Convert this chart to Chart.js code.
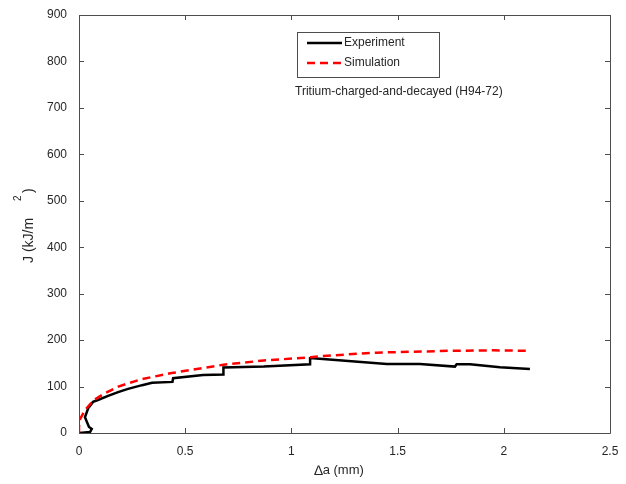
<!DOCTYPE html>
<html>
<head>
<meta charset="utf-8">
<script src="https://cdn.jsdelivr.net/npm/chart.js@4.4.1/dist/chart.umd.min.js"></script>
<style>
  html, body { margin: 0; padding: 0; background: #fff; }
  #wrap { width: 626px; height: 484px; }
</style>
</head>
<body>
<div id="wrap"><canvas id="chart" width="626" height="484"></canvas></div>
<script>
const FONT = '"Liberation Sans", Arial, sans-serif';
const TEXT_COLOR = '#262626';
const FRAME_COLOR = '#4d4d4d';

// Δa (mm) vs J (kJ/m^2)
const expX = [0, 0.052, 0.06, 0.047, 0.028, 0.044, 0.066, 0.089, 0.137, 0.184, 0.231, 0.297, 0.344, 0.44, 0.443, 0.584, 0.68, 0.68, 0.87, 1.088, 1.088, 1.103, 1.449, 1.605, 1.77, 1.778, 1.841, 1.982, 2.123];
const expJ = [0, 2, 9, 13, 34, 54, 67, 71, 80, 88, 95, 103, 108, 110, 118, 125, 126, 141, 143, 148, 161, 161, 148.6, 148.6, 143, 148, 148, 141.5, 137.8];

const simX = [0, 0, 0.005, 0.028, 0.067, 0.12, 0.185, 0.295, 0.436, 0.585, 0.68, 0.868, 1.09, 1.15, 1.4, 1.75, 1.95, 2.108];
const simJ = [0, 13, 30, 49, 70, 85, 100, 116, 129, 140, 147, 156, 163, 166, 173, 177, 178, 177];

const X_TICKS = [0, 0.5, 1, 1.5, 2, 2.5];
const Y_TICKS = [0, 100, 200, 300, 400, 500, 600, 700, 800, 900];

const SERIES_LABELS = ['Experiment', 'Simulation'];
const NOTE = 'Tritium-charged-and-decayed (H94-72)';

function toPoints(xs, ys) {
  return xs.map((x, i) => ({ x, y: ys[i] }));
}

// box + inward tick marks on all four sides
const framePlugin = {
  id: 'frame',
  afterDraw(chart) {
    const { ctx, chartArea: a, scales } = chart;
    const tick = 5;
    ctx.save();
    ctx.strokeStyle = FRAME_COLOR;
    ctx.lineWidth = 1;
    ctx.beginPath();
    ctx.rect(a.left + 0.5, a.top + 0.5, a.right - a.left, a.bottom - a.top);
    for (const v of X_TICKS) {
      const px = Math.round(scales.x.getPixelForValue(v)) + 0.5;
      ctx.moveTo(px, a.bottom); ctx.lineTo(px, a.bottom - tick);
      ctx.moveTo(px, a.top); ctx.lineTo(px, a.top + tick);
    }
    for (const v of Y_TICKS) {
      const py = Math.round(scales.y.getPixelForValue(v)) + 0.5;
      ctx.moveTo(a.left, py); ctx.lineTo(a.left + tick, py);
      ctx.moveTo(a.right, py); ctx.lineTo(a.right - tick, py);
    }
    ctx.stroke();
    ctx.restore();
  },
};

const labelsPlugin = {
  id: 'labels',
  afterDraw(chart) {
    const { ctx } = chart;
    ctx.save();
    ctx.fillStyle = TEXT_COLOR;

    // x title: Δa (mm)
    ctx.textBaseline = 'middle';
    ctx.textAlign = 'left';
    ctx.font = `14px ${FONT}`;
    const dW = ctx.measureText('\u2206').width;
    ctx.font = `13px ${FONT}`;
    const restW = ctx.measureText('a (mm)').width;
    const x0 = 339 - (dW + restW) / 2;
    ctx.font = `14px ${FONT}`;
    ctx.fillText('\u2206', x0, 471);
    ctx.font = `13px ${FONT}`;
    ctx.fillText('a (mm)', x0 + dW, 470);

    // y title: J (kJ/m^2)
    ctx.save();
    ctx.translate(29, 263);
    ctx.rotate(-Math.PI / 2);
    ctx.font = `14px ${FONT}`;
    ctx.fillText('J (kJ/m', 0, 0);
    ctx.fillText(')', 70, 0);
    ctx.font = `10px ${FONT}`;
    ctx.fillText('2', 62, -11);
    ctx.restore();

    // legend box
    ctx.fillStyle = '#fff';
    ctx.fillRect(297, 32, 142, 45);
    ctx.strokeStyle = FRAME_COLOR;
    ctx.lineWidth = 1;
    ctx.strokeRect(297.5, 32.5, 142, 45);

    const sets = chart.data.datasets;
    const rows = [43, 63];
    rows.forEach((y, i) => {
      const ds = sets[i];
      ctx.strokeStyle = ds.borderColor;
      ctx.lineWidth = ds.borderWidth;
      ctx.setLineDash(ds.borderDash || []);
      ctx.beginPath();
      ctx.moveTo(307, y);
      ctx.lineTo(342, y);
      ctx.stroke();
      ctx.setLineDash([]);
      ctx.fillStyle = TEXT_COLOR;
      ctx.font = `12px ${FONT}`;
      ctx.fillText(ds.label, 344, y);
    });

    ctx.fillText(NOTE, 295, 92);
    ctx.restore();
  },
};

new Chart(document.getElementById('chart').getContext('2d'), {
  type: 'scatter',
  data: {
    datasets: [
      {
        label: SERIES_LABELS[0],
        data: toPoints(expX, expJ),
        showLine: true,
        borderColor: '#000000',
        borderWidth: 2.5,
        pointRadius: 0,
        tension: 0,
        order: 1,
      },
      {
        label: SERIES_LABELS[1],
        data: toPoints(simX, simJ),
        showLine: true,
        borderColor: '#ff0000',
        borderWidth: 2.5,
        borderDash: [8, 5],
        pointRadius: 0,
        tension: 0,
        order: 0,
      },
    ],
  },
  options: {
    responsive: false,
    animation: false,
    layout: { padding: { left: 0, top: 15, right: 16, bottom: 0 } },
    plugins: {
      legend: { display: false },
      tooltip: { enabled: false },
    },
    scales: {
      x: {
        type: 'linear',
        min: 0,
        max: 2.5,
        afterBuildTicks(scale) { scale.ticks = X_TICKS.map((value) => ({ value })); },
        afterFit(scale) {
          scale.height = 51;
          scale.paddingLeft = 0;
          scale.paddingRight = 0;
        },
        grid: { display: false, drawTicks: false },
        border: { display: false },
        ticks: {
          color: TEXT_COLOR,
          font: { family: FONT, size: 12 },
          padding: 11,
          maxRotation: 0,
          callback: (v) => String(v),
        },
      },
      y: {
        type: 'linear',
        min: 0,
        max: 900,
        afterBuildTicks(scale) { scale.ticks = Y_TICKS.map((value) => ({ value })); },
        afterFit(scale) {
          scale.width = 79;
          scale.paddingTop = 0;
          scale.paddingBottom = 0;
        },
        grid: { display: false, drawTicks: false },
        border: { display: false },
        ticks: { color: TEXT_COLOR, font: { family: FONT, size: 12 }, padding: 12 },
      },
    },
  },
  plugins: [framePlugin, labelsPlugin],
});
</script>
</body>
</html>
